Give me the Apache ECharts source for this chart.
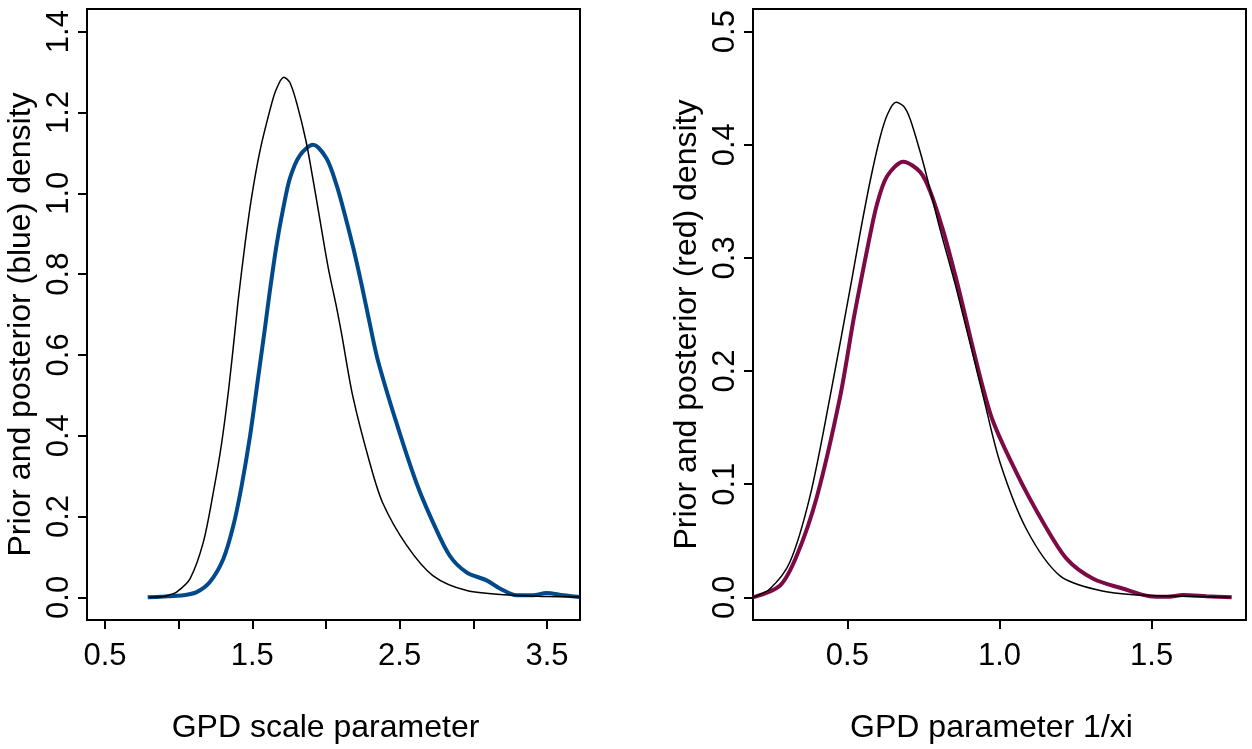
<!DOCTYPE html>
<html>
<head>
<meta charset="utf-8">
<script src="https://cdn.jsdelivr.net/npm/echarts@6/dist/echarts.min.js"></script>
<style>
  html, body { margin: 0; padding: 0; background: #fff; }
  #chart { width: 1252px; height: 749px; }
</style>
</head>
<body>
<div id="chart"></div>
<script>
// left panel: GPD scale parameter
const scalePriorX = [0.80, 0.90, 0.94, 0.986, 1.077, 1.167, 1.235, 1.292, 1.341, 1.384, 1.404, 1.45, 1.495, 1.552, 1.619, 1.66, 1.714, 1.755, 1.806, 1.864, 1.902, 1.959, 2.015, 2.072, 2.106, 2.183, 2.298, 2.386, 2.549, 2.725, 2.956, 3.27, 3.5, 3.72];
const scalePriorY = [0, 0.002, 0.0066, 0.013, 0.046, 0.136, 0.259, 0.382, 0.52, 0.665, 0.735, 0.873, 0.99, 1.105, 1.205, 1.255, 1.287, 1.274, 1.217, 1.130, 1.055, 0.934, 0.816, 0.717, 0.652, 0.496, 0.332, 0.233, 0.128, 0.054, 0.017, 0.005, 0.002, 0.001];
const scalePostX = [0.79, 0.90, 0.94, 1.031, 1.122, 1.212, 1.303, 1.371, 1.427, 1.484, 1.54, 1.585, 1.619, 1.665, 1.71, 1.755, 1.823, 1.913, 2.004, 2.072, 2.128, 2.185, 2.241, 2.298, 2.352, 2.479, 2.614, 2.727, 2.84, 2.954, 3.09, 3.18, 3.293, 3.406, 3.496, 3.61, 3.72];
const scalePostY = [0, 0.002, 0.003, 0.005, 0.013, 0.038, 0.095, 0.177, 0.275, 0.398, 0.545, 0.664, 0.758, 0.873, 0.963, 1.037, 1.094, 1.12, 1.086, 1.02, 0.947, 0.865, 0.775, 0.676, 0.587, 0.431, 0.283, 0.185, 0.103, 0.062, 0.042, 0.022, 0.005, 0.005, 0.011, 0.005, 0.001];
const scaleTicks = [0.5, 1.0, 1.5, 2.0, 2.5, 3.0, 3.5];
const scaleLabels = [0.5, 1.5, 2.5, 3.5];
const scaleYTicks = [0, 0.2, 0.4, 0.6, 0.8, 1.0, 1.2, 1.4];

// right panel: GPD parameter 1/xi
const xiPriorX = [0.19, 0.246, 0.311, 0.377, 0.443, 0.514, 0.542, 0.575, 0.607, 0.632, 0.660, 0.685, 0.706, 0.739, 0.761, 0.805, 0.859, 0.947, 1.002, 1.089, 1.199, 1.33, 1.45, 1.6, 1.76];
const xiPriorY = [0, 0.0076, 0.031, 0.089, 0.177, 0.28, 0.322, 0.368, 0.406, 0.427, 0.4375, 0.434, 0.423, 0.394, 0.372, 0.325, 0.272, 0.177, 0.119, 0.060, 0.019, 0.006, 0.002, 0.001, 0];
const xiPostX = [0.19, 0.279, 0.334, 0.40, 0.476, 0.520, 0.542, 0.570, 0.597, 0.63, 0.684, 0.739, 0.772, 0.816, 0.859, 0.969, 1.056, 1.144, 1.221, 1.308, 1.407, 1.494, 1.55, 1.604, 1.68, 1.763];
const xiPostY = [0, 0.0105, 0.037, 0.089, 0.177, 0.245, 0.276, 0.314, 0.347, 0.372, 0.385, 0.376, 0.359, 0.323, 0.28, 0.163, 0.11, 0.066, 0.034, 0.0164, 0.0076, 0.001, 0.0005, 0.002, 0.001, 0];
const xiTicks = [0.5, 1.0, 1.5];
const xiYTicks = [0, 0.1, 0.2, 0.3, 0.4, 0.5];

const zip = (xs, ys) => xs.map((x, i) => [x, ys[i]]);
const FONT = "'Liberation Sans', Arial, sans-serif";
const fmt = v => v.toFixed(1);

function xAx(idx, name, min, max, ticks, labels) {
  return {
    type: 'value', gridIndex: idx, min: min, max: max,
    name: name, nameLocation: 'middle', nameGap: 92,
    nameTextStyle: { fontSize: 32, color: '#000', fontFamily: FONT, padding: [0, 16, 0, 0] },
    axisLine: { show: true, onZero: false, lineStyle: { color: '#000', width: 2 } },
    axisTick: { show: true, inside: false, length: 9, customValues: ticks, lineStyle: { color: '#000', width: 2 } },
    axisLabel: { show: true, customValues: labels, formatter: fmt, fontSize: 31, color: '#000', fontFamily: FONT, margin: 21 },
    splitLine: { show: false }
  };
}

function yAx(idx, name, min, max, ticks) {
  return {
    type: 'value', gridIndex: idx, min: min, max: max,
    name: name, nameLocation: 'middle', nameGap: 50, nameRotate: 90,
    nameTextStyle: { fontSize: 32, color: '#000', fontFamily: FONT, padding: [0, 20, 0, 0] },
    axisLine: { show: true, onZero: false, lineStyle: { color: '#000', width: 2 } },
    axisTick: { show: true, inside: false, length: 9, customValues: ticks, lineStyle: { color: '#000', width: 2 } },
    axisLabel: { show: true, customValues: ticks, formatter: fmt, rotate: 90, fontSize: 31, color: '#000', fontFamily: FONT, margin: 12 },
    splitLine: { show: false }
  };
}

function line(idx, data, color, width, z) {
  return {
    type: 'line', xAxisIndex: idx, yAxisIndex: idx, data: data,
    showSymbol: false, smooth: 0.3, z: z, silent: true,
    lineStyle: { color: color, width: width }
  };
}

const chart = echarts.init(document.getElementById('chart'), null, { renderer: 'canvas' });
chart.setOption({
  backgroundColor: '#ffffff',
  animation: false,
  grid: [
    { left: 87, top: 9, width: 493, height: 614, show: true, borderColor: '#000', borderWidth: 2, backgroundColor: 'transparent' },
    { left: 753, top: 9, width: 493, height: 614, show: true, borderColor: '#000', borderWidth: 2, backgroundColor: 'transparent' }
  ],
  xAxis: [
    xAx(0, 'GPD scale parameter', 0.378, 3.724, scaleTicks, scaleLabels),
    xAx(1, 'GPD parameter 1/xi', 0.19, 1.81, xiTicks, xiTicks)
  ],
  yAxis: [
    yAx(0, 'Prior and posterior (blue) density', -0.056, 1.456, scaleYTicks),
    yAx(1, 'Prior and posterior (red) density', -0.02, 0.52, xiYTicks)
  ],
  series: [
    line(0, zip(scalePostX, scalePostY), '#004a8c', 4, 2),
    line(0, zip(scalePriorX, scalePriorY), '#000000', 1.5, 3),
    line(1, zip(xiPostX, xiPostY), '#7e0a45', 4, 2),
    line(1, zip(xiPriorX, xiPriorY), '#000000', 1.5, 3)
  ]
});
</script>
</body>
</html>
